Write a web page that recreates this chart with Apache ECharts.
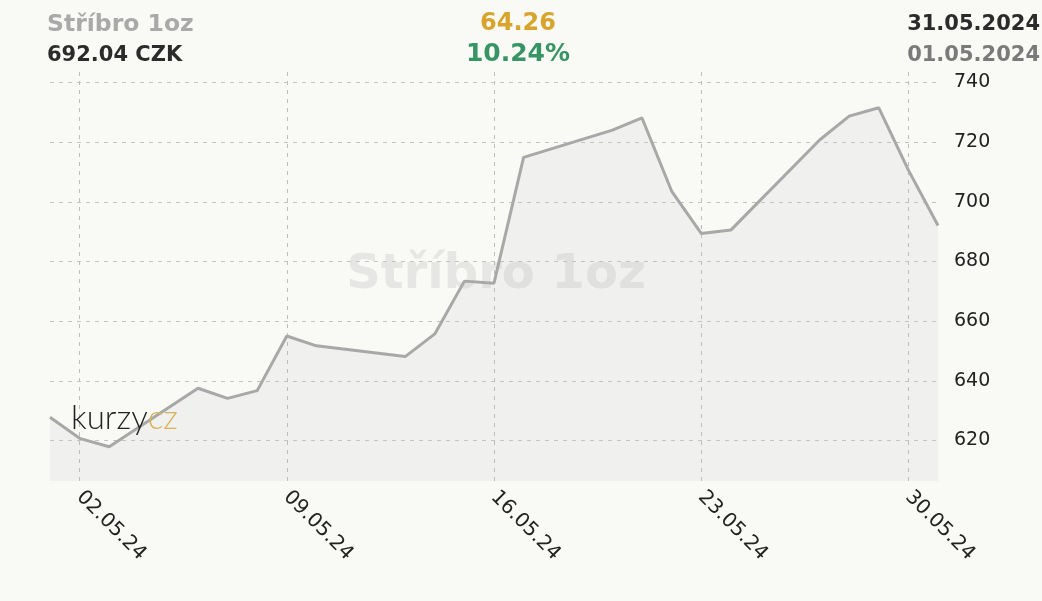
<!DOCTYPE html>
<html>
<head>
<meta charset="utf-8">
<script src="https://cdn.jsdelivr.net/npm/echarts@6/dist/echarts.min.js"></script>
<style>
  html, body { margin: 0; background: #f9f9f6; }
  #chart { width: 1042px; height: 601px; }
</style>
</head>
<body>
<div id="chart"></div>
<script>
// ── data ──
const dates = [
  '01.05.24', '02.05.24', '03.05.24', '04.05.24', '05.05.24', '06.05.24', '07.05.24',
  '08.05.24', '09.05.24', '10.05.24', '11.05.24', '12.05.24', '13.05.24', '14.05.24',
  '15.05.24', '16.05.24', '17.05.24', '18.05.24', '19.05.24', '20.05.24', '21.05.24',
  '22.05.24', '23.05.24', '24.05.24', '25.05.24', '26.05.24', '27.05.24', '28.05.24',
  '29.05.24', '30.05.24', '31.05.24'
]
// weekends have no quote
const prices = [
  627.78, 620.7, 617.9, null, null, 637.5, 634.1,
  636.7, 655.0, 651.7, null, null, 648.1, 655.7,
  673.4, 672.7, 714.9, null, null, 724.0, 728.1,
  703.6, 689.4, 690.5, null, null, 720.7, 728.7,
  731.5, 710.6, 692.04
]
const yRange = [606.4, 743.5]

const header = {
  name: 'Stříbro 1oz',
  last: '692.04 CZK',
  change: '64.26',
  changePct: '10.24%',
  dateTo: '31.05.2024',
  dateFrom: '01.05.2024',
}

const FONT = '"DejaVu Sans", Verdana, sans-serif'
const weekly = (i) => i % 7 === 1

const chart = echarts.init(document.getElementById('chart'))
chart.setOption({
  backgroundColor: '#f9f9f6',
  animation: false,
  grid: { left: 50, right: 104, top: 72, bottom: 120 },
  graphic: [
    // header
    { type: 'text', x: 47, y: 25, style: { text: header.name, font: 'bold 23.5px ' + FONT, fill: '#a9a9a9', align: 'left', verticalAlign: 'middle' } },
    { type: 'text', x: 47, y: 55.5, style: { text: header.last, font: 'bold 21px ' + FONT, fill: '#2b2b2b', align: 'left', verticalAlign: 'middle' } },
    { type: 'text', x: 518, y: 24, style: { text: header.change, font: 'bold 24px ' + FONT, fill: '#d8a42c', align: 'center', verticalAlign: 'middle' } },
    { type: 'text', x: 518, y: 54, style: { text: header.changePct, font: 'bold 25px ' + FONT, fill: '#379464', align: 'center', verticalAlign: 'middle' } },
    { type: 'text', x: 1040, y: 24.5, style: { text: header.dateTo, font: 'bold 21px ' + FONT, fill: '#2b2b2b', align: 'right', verticalAlign: 'middle' } },
    { type: 'text', x: 1040, y: 55.5, style: { text: header.dateFrom, font: 'bold 21px ' + FONT, fill: '#7a7a7a', align: 'right', verticalAlign: 'middle' } },
    // watermark
    { type: 'text', z: -10, x: 496, y: 276, style: { text: header.name, font: 'bold 48px ' + FONT, fill: '#e6e6e5', align: 'center', verticalAlign: 'middle' } },
    // logo
    {
      type: 'text', z: 100, x: 71, y: 418,
      style: {
        text: '{a|kurzy}{b|cz}',
        verticalAlign: 'middle',
        rich: {
          a: { fontFamily: 'Lato', fontWeight: 300, fontSize: 33, fill: '#222' },
          b: { fontFamily: 'Lato', fontWeight: 300, fontSize: 33, fill: '#d9b25a' },
        },
      },
    },
  ],
  xAxis: {
    type: 'category',
    data: dates,
    boundaryGap: false,
    axisLine: { show: false },
    axisTick: { show: false },
    axisLabel: {
      interval: weekly,
      rotate: -45,
      margin: 13,
      fontFamily: FONT,
      fontSize: 20,
      color: '#222',
    },
    splitLine: {
      show: true,
      interval: weekly,
      lineStyle: { color: '#bdbdbd', type: [4, 5], width: 1 },
    },
  },
  yAxis: {
    type: 'value',
    position: 'right',
    min: yRange[0],
    max: yRange[1],
    splitNumber: 7,
    axisLine: { show: false },
    axisTick: { show: false },
    axisLabel: {
      margin: 16,
      fontFamily: FONT,
      fontSize: 19,
      color: '#222',
      showMinLabel: false,
      showMaxLabel: false,
    },
    splitLine: {
      showMinLine: false,
      showMaxLine: false,
      lineStyle: { color: '#c4c4c4', type: [4, 5], width: 1 },
    },
  },
  series: [{
    type: 'line',
    data: prices,
    connectNulls: true,
    showSymbol: false,
    lineStyle: { color: '#a8a8a8', width: 3 },
    areaStyle: { color: 'rgba(190,190,190,0.2)' },
    z: 2,
  }],
})
</script>
</body>
</html>
